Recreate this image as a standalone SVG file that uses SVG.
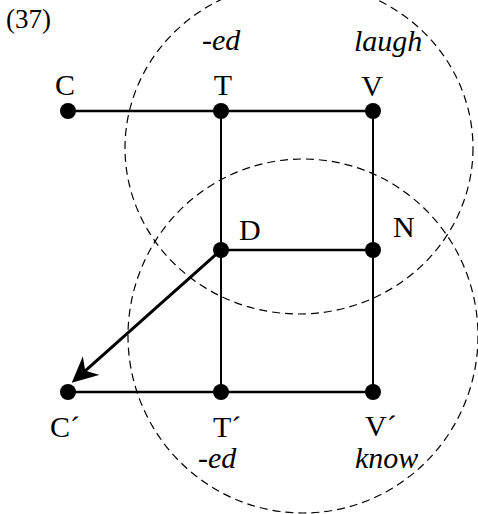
<svg xmlns="http://www.w3.org/2000/svg" width="478" height="514" viewBox="0 0 478 514">
<style>
text{font-family:"Liberation Serif","Times New Roman",serif;font-size:30px;fill:#000}
.it{font-style:italic}
.num{font-size:27px}
.circ{fill:none;stroke:#000;stroke-width:1.2;stroke-dasharray:8 5}
.h{stroke:#000;stroke-width:2.5;fill:none}
.v{stroke:#000;stroke-width:2;fill:none}
.arr{stroke:#000;stroke-width:3;fill:none}
.dot{fill:#000}
</style>
<defs>
<marker id="ah" markerUnits="userSpaceOnUse" viewBox="0 -13 26 26" markerWidth="26" markerHeight="26" refX="8" refY="0" orient="auto">
<path d="M26,0 L0,-12.5 L8,0 L0,12.5 Z" fill="#000"/>
</marker>
</defs>
<text class="num" x="6" y="28">(37)</text>
<g id="domains">
<ellipse class="circ" cx="299" cy="148" rx="174" ry="166"/>
<ellipse class="circ" cx="303" cy="336" rx="175" ry="177"/>
</g>
<g id="connectors">
<line class="h" x1="68" y1="111" x2="373" y2="111"/>
<line class="h" x1="221" y1="250" x2="373" y2="250"/>
<line class="h" x1="68" y1="392" x2="373" y2="392"/>
<line class="v" x1="221" y1="111" x2="221" y2="392"/>
<line class="v" x1="373" y1="111" x2="373" y2="392"/>
<line class="arr" x1="221" y1="250" x2="85.2" y2="370.8" marker-end="url(#ah)"/>
</g>
<g id="C"><circle class="dot" cx="68" cy="111" r="8"/><text x="65" y="95" text-anchor="middle">C</text></g>
<g id="T"><circle class="dot" cx="221" cy="111" r="8"/><text x="223" y="95" text-anchor="middle">T</text><text class="it" x="202" y="50">-ed</text></g>
<g id="V"><circle class="dot" cx="373" cy="111" r="8"/><text x="372" y="96" text-anchor="middle">V</text><text class="it" x="354" y="51">laugh</text></g>
<g id="D"><circle class="dot" cx="221" cy="250" r="8"/><text x="239" y="240">D</text></g>
<g id="N"><circle class="dot" cx="373" cy="250" r="8"/><text x="393" y="237">N</text></g>
<g id="C2"><circle class="dot" cx="68" cy="392" r="8"/><text x="50" y="437">C´</text></g>
<g id="T2"><circle class="dot" cx="221" cy="392" r="8"/><text x="213" y="437">T´</text><text class="it" x="198" y="468">-ed</text></g>
<g id="V2"><circle class="dot" cx="373" cy="392" r="8"/><text x="365" y="436">V´</text><text class="it" x="355" y="468">know</text></g>
</svg>
